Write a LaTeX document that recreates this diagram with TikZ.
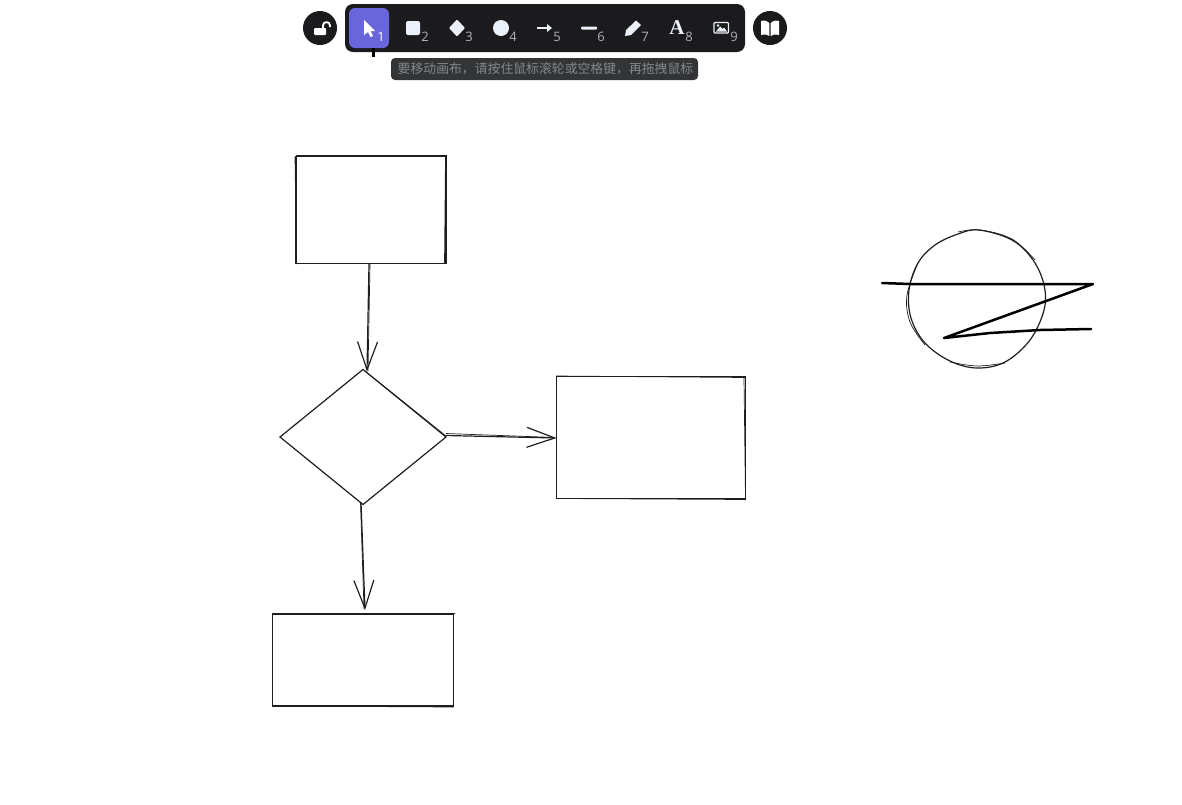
\documentclass[tikz,border=0pt]{standalone}
\usepackage{fontspec}
\setmainfont{Open Sans}
\newfontfamily\cjk{Noto Sans CJK SC}
\newfontfamily\serifbold{Liberation Serif}[Scale=1]
\usepackage{xcolor}
\usetikzlibrary{arrows.meta,shapes.geometric}
\definecolor{ink}{HTML}{1E1E1E}
\definecolor{barbg}{HTML}{1B1B1D}
\definecolor{selbg}{HTML}{6965DB}
\definecolor{tipbg}{HTML}{333436}
\definecolor{tiptext}{HTML}{85878A}
\definecolor{numtext}{HTML}{AEB1B6}
\definecolor{iconfg}{HTML}{ECF0F9}
\tikzset{
	shapebox/.style={draw=ink,line width=1.2pt,inner sep=0pt,outer sep=0pt},
	flowline/.style={draw=ink,line width=1.2pt,-{Straight Barb[length=28pt,width=20pt,line width=1.2pt]}},
	sketch/.style={draw=ink,line width=.7pt},
	freehand/.style={draw=black,line width=2.5pt,line cap=round,line join=round},
	roundbtn/.style={circle,fill=barbg,minimum size=34pt,inner sep=0pt},
	icon/.style={fill=iconfg,draw=none},
	keynum/.style={font=\fontsize{13}{13}\selectfont,text=numtext,inner sep=0pt}
}
\begin{document}
\begin{tikzpicture}[x=1pt,y=-1pt]
	\useasboundingbox (0,0) rectangle (1182,804);
	% toolbar
	\node[roundbtn] (lockbtn) at (320,28) {};
	\node[roundbtn] (bookbtn) at (770,28) {};
	\fill[barbg,rounded corners=8pt] (345,4) rectangle (745,52);
	\fill[selbg,rounded corners=6pt] (349,8) rectangle (389,48);
	\fill[black] (371.5,48) rectangle (375,57);
	\fill[tipbg,rounded corners=4pt] (391,58) rectangle (698,80);
	\node[text=tiptext,inner sep=0pt] (hint) at (545.5,69) {\cjk\fontsize{12.85}{13}\selectfont 要移动画布，请按住鼠标滚轮或空格键，再拖拽鼠标};
	% toolbar icons
	\fill[white] (364,20) -- (375,31) -- (370.5,31) -- (373,36) -- (370.5,37) -- (368,32) -- (364,35) -- cycle;
	\fill[icon,rounded corners=2pt] (406,21) rectangle (420,35);
	\fill[icon,rounded corners=1pt] (457,19.5) -- (465,28) -- (457,36.5) -- (449,28) -- cycle;
	\fill[icon] (501,28) circle (8);
	\fill[icon] (537,27) rectangle (547,29);
	\fill[icon] (547,24) -- (552,28) -- (547,32) -- cycle;
	\fill[icon,rounded corners=1pt] (581,26.5) rectangle (597,29.5);
	\fill[icon] (625,36) -- (626,30) -- (636,20.5) -- (641,25) -- (631,35) -- cycle;
	\node[text=iconfg,inner sep=0pt] (letter) at (677,28) {\serifbold\bfseries\fontsize{21}{21}\selectfont A};
	\draw[iconfg,line width=1.3pt,rounded corners=1pt] (714,22.5) rectangle (728.5,33);
	\fill[icon] (716,31.5) -- (720,26.5) -- (722.5,29) -- (724,27.5) -- (727,31.5) -- cycle;
	\fill[icon] (718,25.5) circle (1.3);
	\fill[white,rounded corners=1pt] (314,28) rectangle (326,35);
	\draw[white,line width=1.8pt] (323,28) -- (323,25.5) .. controls (323,21) and (330,21) .. (330,25.5) -- (330,27);
	\fill[white] (761,21) .. controls (765,20) and (768,21) .. (769.3,23) -- (769.3,36) .. controls (768,34.5) and (765,34) .. (761,35) -- cycle;
	\fill[white] (779,21) .. controls (775,20) and (772,21) .. (770.7,23) -- (770.7,36) .. controls (772,34.5) and (775,34) .. (779,35) -- cycle;
	\node[keynum,text=white] (num1) at (381,37) {1};
	\foreach \n/\xpos in {2/425,3/469,4/513,5/557,6/601,7/645,8/689,9/734}
		\node[keynum] (num\n) at (\xpos,37) {\n};
	% flow chart
	\node[shapebox,minimum width=150pt,minimum height=107pt] (start) at (371,210) {};
	\node[shapebox,diamond,aspect=1.23,minimum width=166pt,minimum height=135pt] (decision) at (363,437) {};
	\node[shapebox,minimum width=189pt,minimum height=122pt] (yesbox) at (651,437.5) {};
	\node[shapebox,minimum width=181pt,minimum height=92pt] (nobox) at (363,660) {};
	\draw[flowline] ([xshift=-2pt]start.south) -- ([xshift=4pt,yshift=-2pt]decision.north);
	\draw[flowline] ([yshift=1.5pt]decision.east) -- ([yshift=-.5pt]yesbox.west);
	\draw[flowline] ([xshift=-2pt,yshift=2pt]decision.south) -- ([xshift=2pt,yshift=4pt]nobox.north);
	% second strokes
	\draw[sketch] (296,155.5) -- (447,155.5);
	\draw[sketch] (295,157) -- (296.5,264);
	\draw[sketch] (445.5,156) -- (444.5,263);
	\draw[sketch] (365,371) -- (446,436);
	\draw[sketch] (370,264) -- (368,371);
	\draw[sketch] (446,433.5) -- (555,437.5);
	\draw[sketch] (360.5,502) -- (364,609);
	\draw[sketch] (556,376) -- (746,377.5);
	\draw[sketch] (744,378) -- (745.5,500);
	\draw[sketch] (557,498.5) -- (746,499.5);
	\draw[sketch] (273,614.5) -- (455,613.5);
	\draw[sketch] (272,706) -- (454,707);
	% circle and scribble
	\draw[ink,line width=1.2pt] plot[smooth cycle,tension=.6] coordinates {(979,230) (958,234) (935,245) (918,263) (909,290) (911,318) (925,343) (950,361) (977,368) (1005,362) (1030,340) (1044,310) (1044,285) (1033,260) (1012,240)};
	\draw[sketch] plot[smooth,tension=.6] coordinates {(918,263) (907,295) (910,322) (925,345)};
	\draw[sketch] plot[smooth,tension=.6] coordinates {(958,232) (980,230) (1012,239) (1035,260)};
	\draw[sketch] plot[smooth,tension=.6] coordinates {(950,362) (977,366) (1005,363)};
	\draw[freehand] (882,283) -- (910,284) -- (1093,284) -- (944,338) -- (990,333) -- (1040,330) -- (1091,329);
\end{tikzpicture}
\end{document}
